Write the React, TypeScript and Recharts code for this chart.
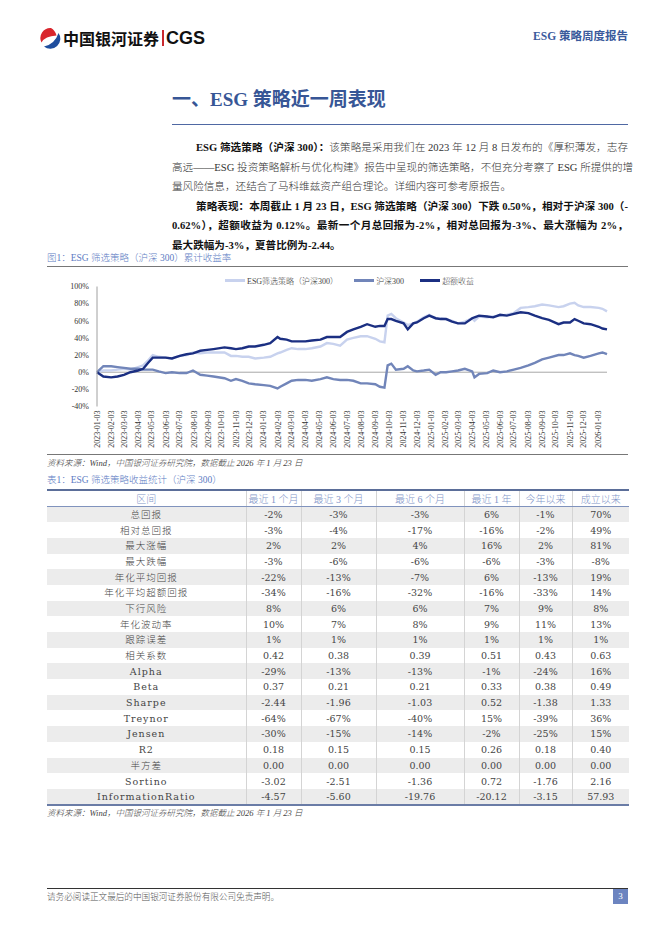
import React from "react";
import { LineChart, Line, XAxis, YAxis, ReferenceLine, Legend } from "recharts";

// 累计收益率（%），按日期读图
const dates = [
  "2023-01-03", "2023-01-17", "2023-02-03", "2023-02-17", "2023-03-03", "2023-03-17",
  "2023-04-03", "2023-04-14", "2023-04-25", "2023-05-05", "2023-05-18", "2023-06-02",
  "2023-06-16", "2023-07-03", "2023-07-18", "2023-08-01", "2023-08-17", "2023-09-01",
  "2023-09-15", "2023-10-09", "2023-10-23", "2023-11-03", "2023-11-17", "2023-12-01",
  "2023-12-15", "2024-01-03", "2024-01-17", "2024-02-02", "2024-02-08", "2024-02-22",
  "2024-03-04", "2024-03-18", "2024-04-03", "2024-04-17", "2024-05-06", "2024-05-20",
  "2024-06-03", "2024-06-18", "2024-07-03", "2024-07-17", "2024-08-02", "2024-08-16",
  "2024-09-03", "2024-09-13", "2024-09-23", "2024-09-30", "2024-10-08", "2024-10-18",
  "2024-11-04", "2024-11-13", "2024-11-25", "2024-12-03", "2024-12-18", "2024-12-30",
  "2025-01-13", "2025-01-24", "2025-02-05", "2025-02-18", "2025-03-03", "2025-03-18",
  "2025-04-03", "2025-04-08", "2025-04-18", "2025-05-06", "2025-05-19", "2025-06-03",
  "2025-06-18", "2025-07-03", "2025-07-18", "2025-08-04", "2025-08-18", "2025-09-03",
  "2025-09-18", "2025-10-09", "2025-10-20", "2025-11-03", "2025-11-13", "2025-11-21",
  "2025-12-03", "2025-12-18", "2026-01-05", "2026-01-13", "2026-01-23",
];

const esgReturn = [
  0, 2, 2, 3, 4, 3, 6, 8, 14, 20, 18, 17,
  16, 19, 20, 23, 22, 23, 23, 23, 19, 19, 18, 18,
  16, 17, 18, 22, 23, 26, 28, 27, 27, 28, 30, 34,
  33, 31, 38, 40, 42, 42, 39, 36, 35, 66, 68, 63,
  58, 55, 57, 59, 64, 67, 63, 63, 62, 60, 57, 59,
  63, 60, 65, 64, 65, 66, 67, 69, 75, 76, 77, 79,
  78, 76, 77, 80, 81, 78, 76, 76, 75, 74, 71,
];

const hs300Return = [
  0, 7, 7, 6, 5, 4, 4, 3, 3, 3, 1, -1,
  0, -1, -1, 2, -3, -4, -5, -7, -10, -8, -10, -13,
  -14, -15, -16, -19, -17, -13, -10, -9, -9, -10, -8, -6,
  -8, -9, -9, -10, -13, -13, -14, -17, -18, 8, 10, 3,
  4, 7, 2, 1, 2, 3, -3, 0, 0, 1, 2, 4,
  1, -6, -2, -1, 2, 0, 1, 3, 5, 8, 11, 15,
  17, 20, 20, 22, 20, 19, 17, 19, 22, 23, 21,
];

const excessReturn = [
  0, -5, -6, -5, -3, 0, 2, 4, 11, 17, 17, 17,
  16, 19, 21, 22, 25, 26, 27, 29, 28, 27, 28, 30,
  30, 32, 34, 41, 39, 38, 36, 36, 36, 37, 38, 41,
  41, 41, 47, 50, 53, 56, 53, 54, 54, 62, 62, 60,
  57, 50, 57, 58, 63, 66, 63, 62, 62, 59, 57, 57,
  63, 64, 66, 65, 64, 67, 66, 68, 70, 69, 66, 63,
  61, 56, 58, 58, 62, 60, 57, 56, 53, 51, 50,
];

const monthTicks = [
  "2023-01-03", "2023-02-03", "2023-03-03", "2023-04-03", "2023-05-03", "2023-06-03",
  "2023-07-03", "2023-08-03", "2023-09-03", "2023-10-03", "2023-11-03", "2023-12-03",
  "2024-01-03", "2024-02-03", "2024-03-03", "2024-04-03", "2024-05-03", "2024-06-03",
  "2024-07-03", "2024-08-03", "2024-09-03", "2024-10-03", "2024-11-03", "2024-12-03",
  "2025-01-03", "2025-02-03", "2025-03-03", "2025-04-03", "2025-05-03", "2025-06-03",
  "2025-07-03", "2025-08-03", "2025-09-03", "2025-10-03", "2025-11-03", "2025-12-03",
  "2026-01-03",
];

const yTicks = [-40, -20, 0, 20, 40, 60, 80, 100];

const seriesNames = ["ESG筛选策略（沪深300）", "沪深300", "超额收益"];

// 表1
const tableHeaders = ["区间", "最近 1 个月", "最近 3 个月", "最近 6 个月", "最近 1 年", "今年以来", "成立以来"];
const rowLabels = [
  "总回报", "相对总回报", "最大涨幅", "最大跌幅", "年化平均回报", "年化平均超额回报", "下行风险",
  "年化波动率", "跟踪误差", "相关系数", "Alpha", "Beta", "Sharpe", "Treynor", "Jensen", "R2",
  "半方差", "Sortino", "InformationRatio",
];
const last1m = ["-2%", "-3%", "2%", "-3%", "-22%", "-34%", "8%", "10%", "1%", "0.42", "-29%", "0.37", "-2.44", "-64%", "-30%", "0.18", "0.00", "-3.02", "-4.57"];
const last3m = ["-3%", "-4%", "2%", "-6%", "-13%", "-16%", "6%", "7%", "1%", "0.38", "-13%", "0.21", "-1.96", "-67%", "-15%", "0.15", "0.00", "-2.51", "-5.60"];
const last6m = ["-3%", "-17%", "4%", "-6%", "-7%", "-32%", "6%", "8%", "1%", "0.39", "-13%", "0.21", "-1.03", "-40%", "-14%", "0.15", "0.00", "-1.36", "-19.76"];
const last1y = ["6%", "-16%", "16%", "-6%", "6%", "-16%", "7%", "9%", "1%", "0.51", "-1%", "0.33", "0.52", "15%", "-2%", "0.26", "0.00", "0.72", "-20.12"];
const ytd = ["-1%", "-2%", "2%", "-3%", "-13%", "-33%", "9%", "11%", "1%", "0.43", "-24%", "0.38", "-1.38", "-39%", "-25%", "0.18", "0.00", "-1.76", "-3.15"];
const sinceInception = ["70%", "49%", "81%", "-8%", "19%", "14%", "8%", "13%", "1%", "0.63", "16%", "0.49", "1.33", "36%", "15%", "0.40", "0.00", "2.16", "57.93"];
const tableColumns = [last1m, last3m, last6m, last1y, ytd, sinceInception];
const colWidths = [199, 55, 75, 88, 55, 53, 57];

const toTime = (s: string) => Date.parse(s + "T00:00:00Z");
const fmtDate = (t: number) => new Date(t).toISOString().slice(0, 10);

const chartData = dates.map((d, i) => ({
  t: toTime(d),
  esg: esgReturn[i],
  hs300: hs300Return[i],
  excess: excessReturn[i],
}));

const SERIF = "'Liberation Serif', 'Noto Sans CJK SC', serif";
const CJK = "'Noto Sans CJK SC', sans-serif";
const CAPTION = "#5d7cc3";

const DateTick = (props: any) => {
  const { x, y, payload } = props;
  return (
    <g transform={`translate(${x},${y})`}>
      <text transform="rotate(-90)" textAnchor="end" dy="0.33em" fontSize={8} fill="#333" fontFamily={SERIF}>
        {fmtDate(payload.value)}
      </text>
    </g>
  );
};

const LegendContent = (props: any) => (
  <div style={{ display: "flex", alignItems: "center", fontSize: 8, fontFamily: SERIF, fontWeight: 300, color: "#444", whiteSpace: "nowrap" }}>
    {(props.payload || []).map((p: any) => (
      <div key={p.value} style={{ display: "flex", alignItems: "center", marginRight: 16 }}>
        <span style={{ display: "inline-block", width: 20, height: 3, background: p.color, marginRight: 2 }} />
        <span>{p.value}</span>
      </div>
    ))}
  </div>
);

const abs = (left: number, top: number, extra: React.CSSProperties = {}): React.CSSProperties => ({
  position: "absolute",
  left,
  top,
  ...extra,
});

const lineStyle = (last: boolean): React.CSSProperties => ({
  height: 19.5,
  lineHeight: "19.5px",
  whiteSpace: "nowrap",
  textAlign: "justify",
  textAlignLast: last ? "left" : "justify",
});

export default function App() {
  return (
    <div style={{ position: "absolute", left: 0, top: 0, width: 662, height: 936, background: "#fff", overflow: "hidden" }}>
      {/* 页眉 */}
      <svg style={abs(39, 27)} width={22} height={22} viewBox="0 0 22 22">
        <path d="M12 1 A10 10 0 0 0 2.5 15.5 Q6 9 17.5 8.5 Q16 3 12 1 Z" fill="#d9262d" />
        <path d="M19.5 6 A10 10 0 0 1 5 19.5 Q16 17 19.5 6 Z" fill="#1f4e9e" />
      </svg>
      <div style={abs(63, 27, { fontFamily: CJK, fontWeight: 700, fontSize: 16, lineHeight: "22px", color: "#111" })}>中国银河证券</div>
      <div style={abs(162, 30, { width: 1.5, height: 16, background: "#c9282e" })} />
      <div style={abs(166, 26, { fontFamily: "'Liberation Sans', Arial, sans-serif", fontWeight: 700, fontSize: 18, lineHeight: "24px", color: "#111" })}>CGS</div>
      <div style={abs(440, 28, { width: 188, textAlign: "right", fontFamily: SERIF, fontWeight: 700, fontSize: 11.5, lineHeight: "16px", color: "#3a5a9c" })}>ESG 策略周度报告</div>

      {/* 标题 */}
      <div style={abs(172, 88, { fontFamily: SERIF, fontWeight: 700, fontSize: 19, lineHeight: "24px", color: "#375696" })}>一、ESG 策略近一周表现</div>
      <div style={abs(172, 124, { width: 456, height: 1, background: "#4f68a3" })} />

      {/* 正文 */}
      <div style={abs(172, 138, { width: 456, fontFamily: SERIF, fontSize: 10.6, fontWeight: 300, color: "#333" })}>
        <div style={{ ...lineStyle(false), paddingLeft: 24 }}>
          <b style={{ color: "#111", fontWeight: 700 }}>ESG 筛选策略（沪深 300）：</b>该策略是采用我们在 2023 年 12 月 8 日发布的《厚积薄发，志存
        </div>
        <div style={lineStyle(false)}>高远——ESG 投资策略解析与优化构建》报告中呈现的筛选策略，不但充分考察了 ESG 所提供的增</div>
        <div style={lineStyle(true)}>量风险信息，还结合了马科维兹资产组合理论。详细内容可参考原报告。</div>
        <div style={{ ...lineStyle(false), paddingLeft: 24, fontWeight: 700, color: "#111" }}>
          策略表现：本周截止 1 月 23 日，ESG 筛选策略（沪深 300）下跌 0.50%，相对于沪深 300（-
        </div>
        <div style={{ ...lineStyle(false), fontWeight: 700, color: "#111" }}>
          0.62%），超额收益为 0.12%。最新一个月总回报为-2%，相对总回报为-3%、最大涨幅为 2%，
        </div>
        <div style={{ ...lineStyle(true), fontWeight: 700, color: "#111" }}>最大跌幅为-3%，夏普比例为-2.44。</div>
      </div>

      {/* 图1 */}
      <div style={abs(47, 251, { fontFamily: SERIF, fontSize: 9.5, fontWeight: 300, lineHeight: "14px", color: CAPTION })}>图1：ESG 筛选策略（沪深 300）累计收益率</div>
      <div style={abs(47, 266, { width: 581, height: 1, background: "#777" })} />
      <div style={abs(40, 268)}>
        <LineChart width={580} height={186} data={chartData} margin={{ top: 18.5, right: 13, bottom: 1.5, left: 0 }}>
          <XAxis
            dataKey="t"
            type="number"
            domain={[toTime(dates[0]), toTime(dates[dates.length - 1])]}
            ticks={monthTicks.map(toTime)}
            tick={<DateTick />}
            tickSize={0}
            tickMargin={4}
            axisLine={false}
            interval={0}
            height={46}
          />
          <YAxis
            domain={[-40, 100]}
            ticks={yTicks}
            tickFormatter={(v: number) => `${v}%`}
            tick={{ fontSize: 8, fill: "#333", fontFamily: SERIF }}
            tickLine={false}
            axisLine={{ stroke: "#a0a0a0" }}
            width={57}
            interval={0}
          />
          <ReferenceLine y={0} stroke="#a8a8a8" strokeWidth={1} />
          <Legend
            verticalAlign="middle"
            align="center"
            content={<LegendContent />}
            wrapperStyle={{ left: 185, top: 7, width: 320 }}
          />
          <Line type="linear" dataKey="esg" name={seriesNames[0]} stroke="#c8d2ee" strokeWidth={2.4} dot={false} isAnimationActive={false} />
          <Line type="linear" dataKey="hs300" name={seriesNames[1]} stroke="#7185b9" strokeWidth={2.4} dot={false} isAnimationActive={false} />
          <Line type="linear" dataKey="excess" name={seriesNames[2]} stroke="#1b2f82" strokeWidth={2.4} dot={false} isAnimationActive={false} />
        </LineChart>
      </div>
      <div style={abs(47, 454, { width: 581, height: 1, background: "#777" })} />
      <div style={abs(47, 456, { fontFamily: SERIF, fontStyle: "italic", fontWeight: 300, fontSize: 8.5, lineHeight: "14px", color: "#444" })}>资料来源：Wind，中国银河证券研究院，数据截止 2026 年 1 月 23 日</div>

      {/* 表1 */}
      <div style={abs(47, 473, { fontFamily: SERIF, fontSize: 9.5, fontWeight: 300, lineHeight: "14px", color: CAPTION })}>表1：ESG 筛选策略收益统计（沪深 300）</div>
      <table
        style={abs(47, 489, {
          width: 582,
          borderCollapse: "collapse",
          tableLayout: "fixed",
          fontFamily: "'DejaVu Serif', 'Noto Sans CJK SC', serif",
          fontSize: 9.5,
          fontWeight: 300,
          color: "#444",
          borderTop: "2px solid #5b6e99",
          borderBottom: "2px solid #6a7ca6",
        })}
      >
        <colgroup>
          {colWidths.map((w, i) => (
            <col key={i} style={{ width: w }} />
          ))}
        </colgroup>
        <thead>
          <tr style={{ height: 16 }}>
            {tableHeaders.map((h, i) => (
              <th
                key={h}
                style={{
                  padding: 0,
                  fontWeight: 300,
                  fontFamily: SERIF,
                  fontSize: 10,
                  color: "#7f95c9",
                  textAlign: "center",
                  borderBottom: "1.5px solid #8093bd",
                  borderLeft: i > 0 ? "1px solid #d4d4d4" : "none",
                  whiteSpace: "nowrap",
                }}
              >
                {h}
              </th>
            ))}
          </tr>
        </thead>
        <tbody>
          {rowLabels.map((label, r) => (
            <tr key={label} style={{ height: 15.7, background: r % 2 === 0 ? "#ececec" : "#fff" }}>
              <td style={{ padding: 0, textAlign: "center", letterSpacing: 1, lineHeight: "15px" }}>{label}</td>
              {tableColumns.map((col, c) => (
                <td key={c} style={{ padding: 0, textAlign: "center", borderLeft: "1px solid #d4d4d4", lineHeight: "15px" }}>
                  {col[r]}
                </td>
              ))}
            </tr>
          ))}
        </tbody>
      </table>
      <div style={abs(47, 806, { fontFamily: SERIF, fontStyle: "italic", fontWeight: 300, fontSize: 8.5, lineHeight: "14px", color: "#444" })}>资料来源：Wind，中国银河证券研究院，数据截止 2026 年 1 月 23 日</div>

      {/* 页脚 */}
      <div style={abs(47, 888, { width: 581, height: 1, background: "#333" })} />
      <div style={abs(47, 889, { fontFamily: CJK, fontWeight: 300, fontSize: 8.6, lineHeight: "14px", color: "#555" })}>请务必阅读正文最后的中国银河证券股份有限公司免责声明。</div>
      <div style={abs(613, 889, { width: 15, height: 15, background: "#6c84c0", color: "#fff", fontSize: 9, lineHeight: "15px", textAlign: "center", fontFamily: SERIF })}>3</div>
    </div>
  );
}
